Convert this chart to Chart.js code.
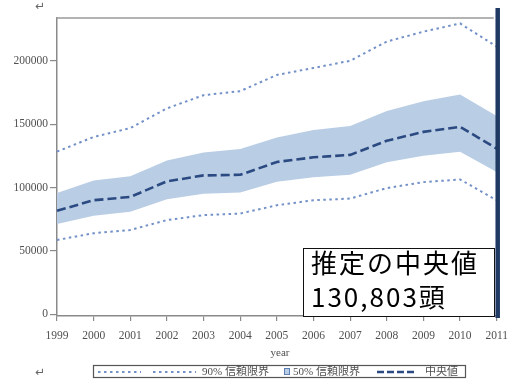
<!DOCTYPE html>
<html>
<head>
<meta charset="utf-8">
<script src="https://cdn.jsdelivr.net/npm/chart.js@4/dist/chart.umd.min.js"></script>
<style>
  html, body { margin: 0; padding: 0; background: #fff; }
  #c { display: block; }
</style>
</head>
<body>
<canvas id="c" width="516" height="379"></canvas>
<script>
// Estimated population by year: median with 50% and 90% confidence limits
const years   = ['1999','2000','2001','2002','2003','2004','2005','2006','2007','2008','2009','2010','2011'];
const upper90 = [128400, 140000, 147000, 162600, 173000, 176200, 189000, 194500, 200200, 215400, 223200, 229700, 211400];
const upper50 = [ 95700, 105600, 109000, 121300, 127800, 130500, 139500, 145400, 148700, 160500, 168300, 173600, 156600];
const median  = [ 81600,  90000,  92600, 104900, 109600, 110100, 120200, 123900, 125800, 137000, 144000, 148000, 130803];
const lower50 = [ 71200,  77700,  80800,  90700,  95200,  96000, 104500, 108200, 110100, 120000, 125200, 128400, 112200];
const lower90 = [ 58600,  63900,  66500,  74300,  78200,  79500,  86000,  90000,  91300,  99600, 104300, 106400,  90000];
const yTicks  = [0, 50000, 100000, 150000, 200000];

const DOT_COLOR  = '#7391c8';
const BAND_COLOR = '#b9cde5';
const MED_COLOR  = '#2c4a82';
const NAVY       = '#1f3a63';
const AXIS_COLOR = '#8a8a8a';
const TEXT_COLOR = '#505050';
const SERIF = '"Liberation Serif", "Noto Sans CJK JP", serif';

const dotted = { borderColor: DOT_COLOR, borderWidth: 2, borderDash: [2.5, 3.5], pointRadius: 0, fill: false, tension: 0, order: 1 };
const band   = { borderWidth: 0, pointRadius: 0, backgroundColor: BAND_COLOR, tension: 0, order: 2 };

// Frame, marker line for the latest year, annotation box, legend and stray marks
const decor = {
  id: 'decor',
  afterDraw(chart) {
    const { ctx, chartArea: a, scales: { x } } = chart;
    ctx.save();

    // top border of the plot
    ctx.strokeStyle = '#9a9a9a';
    ctx.lineWidth = 1.5;
    ctx.beginPath();
    ctx.moveTo(a.left - 0.75, a.top);
    ctx.lineTo(a.right - 3, a.top);
    ctx.stroke();

    // vertical marker at the final year
    const xl = x.getPixelForValue(years.length - 1) + 1;
    ctx.strokeStyle = NAVY;
    ctx.lineWidth = 4.5;
    ctx.beginPath();
    ctx.moveTo(xl, a.top - 10);
    ctx.lineTo(xl, a.bottom + 2);
    ctx.stroke();

    // annotation box with the latest median estimate
    const bx = 303, by = 248, bw = 191, bh = a.bottom - by + 1;
    ctx.fillStyle = '#fff';
    ctx.fillRect(bx, by, bw, bh);
    ctx.strokeStyle = '#111';
    ctx.lineWidth = 1;
    ctx.strokeRect(bx + 0.5, by + 0.5, bw, bh - 1);
    ctx.fillStyle = '#000';
    ctx.font = '26px "Noto Sans CJK JP", sans-serif';
    ctx.letterSpacing = '2px';
    ctx.textAlign = 'left';
    ctx.textBaseline = 'middle';
    ctx.fillText('推定の中央値', 311, 263);
    const last = median[median.length - 1];
    ctx.fillText(last.toLocaleString('en-US') + '頭', 311, 297);
    ctx.letterSpacing = '0px';

    // x axis title
    ctx.fillStyle = TEXT_COLOR;
    ctx.font = '11px ' + SERIF;
    ctx.textAlign = 'center';
    ctx.fillText('year', 280, 353);

    // legend
    const ly = 372;
    ctx.strokeStyle = '#555';
    ctx.lineWidth = 1.2;
    ctx.strokeRect(93.5, 365.5, 372, 12);
    const seg = (x0, x1, color, width, dash) => {
      ctx.strokeStyle = color;
      ctx.lineWidth = width;
      ctx.setLineDash(dash);
      ctx.beginPath();
      ctx.moveTo(x0, ly);
      ctx.lineTo(x1, ly);
      ctx.stroke();
      ctx.setLineDash([]);
    };
    const ds = chart.data.datasets;
    seg(98, 141, DOT_COLOR, 2, [2.5, 3.5]);
    seg(153, 196, DOT_COLOR, 2, [2.5, 3.5]);
    ctx.fillStyle = TEXT_COLOR;
    ctx.font = '11px ' + SERIF;
    ctx.textAlign = 'left';
    ctx.fillText(ds[1].label, 202, ly + 0.5);
    ctx.fillStyle = BAND_COLOR;
    ctx.fillRect(284, 368, 6, 7);
    ctx.strokeStyle = '#5f7fb8';
    ctx.lineWidth = 1;
    ctx.strokeRect(284.5, 368.5, 5, 6);
    ctx.fillStyle = TEXT_COLOR;
    ctx.fillText(ds[3].label, 293, ly + 0.5);
    seg(377, 417, MED_COLOR, 2.5, [7, 3]);
    ctx.fillStyle = TEXT_COLOR;
    ctx.fillText(ds[4].label, 425, ly + 0.5);

    // paragraph marks
    ctx.fillStyle = '#666';
    ctx.font = '12px "DejaVu Sans", sans-serif';
    ctx.textAlign = 'center';
    ctx.fillText('↵', 40, 7);
    ctx.fillText('↵', 40, 373);

    ctx.restore();
  }
};

new Chart(document.getElementById('c'), {
  type: 'line',
  data: {
    labels: years,
    datasets: [
      Object.assign({ label: '', data: lower90 }, dotted),
      Object.assign({ label: '90% 信頼限界', data: upper90 }, dotted),
      Object.assign({ label: '', data: lower50, fill: false }, band),
      Object.assign({ label: '50% 信頼限界', data: upper50, fill: '-1' }, band),
      { label: '中央値', data: median, borderColor: MED_COLOR, borderWidth: 2.6, borderDash: [9, 4],
        pointRadius: 0, fill: false, tension: 0, order: 0 }
    ]
  },
  options: {
    responsive: false,
    animation: false,
    devicePixelRatio: 1,
    layout: { padding: { top: 18, right: 14, bottom: 0, left: 0 } },
    plugins: {
      legend: { display: false },
      tooltip: { enabled: false },
      filler: { propagate: false }
    },
    scales: {
      x: {
        type: 'category',
        offset: false,
        grid: { display: true, drawOnChartArea: false, drawTicks: true, tickLength: 5, color: AXIS_COLOR, lineWidth: 1.2 },
        border: { display: true, color: AXIS_COLOR, width: 1.5 },
        ticks: { color: TEXT_COLOR, font: { family: SERIF, size: 11.5 }, padding: 8, maxRotation: 0, autoSkip: false },
        afterFit(s) { s.height = 63; }
      },
      y: {
        min: -1500,
        max: 234000,
        afterBuildTicks(s) { s.ticks = yTicks.map(v => ({ value: v })); },
        grid: { display: true, drawOnChartArea: false, drawTicks: true, tickLength: 7, color: AXIS_COLOR, lineWidth: 1.2 },
        border: { display: true, color: AXIS_COLOR, width: 1.5 },
        ticks: { color: TEXT_COLOR, font: { family: SERIF, size: 11.5 }, padding: 2, callback: v => String(v) },
        afterFit(s) { s.width = 57; }
      }
    }
  },
  plugins: [decor]
});
</script>
</body>
</html>
